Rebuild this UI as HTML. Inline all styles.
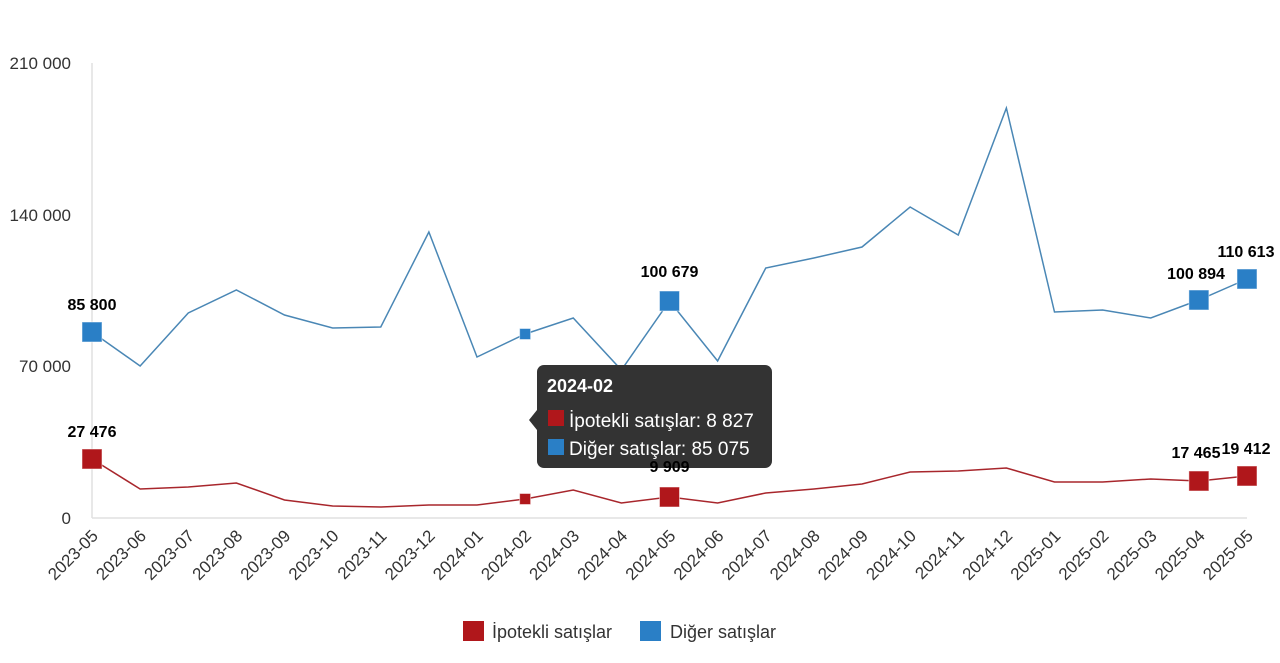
<!DOCTYPE html>
<html><head><meta charset="utf-8"><style>
body{margin:0;background:#fff;width:1280px;height:658px;overflow:hidden;font-family:"Liberation Sans",sans-serif}
</style></head><body>
<svg id="s" width="1280" height="658" xmlns="http://www.w3.org/2000/svg" font-family="Liberation Sans, sans-serif">
<line x1="92" y1="63" x2="92" y2="518" stroke="#e0e0e0" stroke-width="1.5"/>
<line x1="92" y1="518" x2="1247" y2="518" stroke="#e0e0e0" stroke-width="1.5"/>
<g font-size="17" fill="#333" text-anchor="end">
<text x="71" y="69">210 000</text>
<text x="71" y="221">140 000</text>
<text x="71" y="372">70 000</text>
<text x="71" y="524">0</text>
</g>
<g id="g"></g>
<g>
<rect x="463" y="621" width="21" height="20" fill="#b0171b"/>
<text x="492" y="638" font-size="18" fill="#333">İpotekli satışlar</text>
<rect x="640" y="621" width="21" height="20" fill="#2a7fc6"/>
<text x="670" y="638" font-size="18" fill="#333">Diğer satışlar</text>
</g>
<g>
<rect x="537" y="365" width="235" height="103" rx="7" fill="#333"/>
<path d="M537 410 L529 420 L537 430 Z" fill="#333"/>
<text x="547" y="392" font-size="18" font-weight="bold" fill="#fff">2024-02</text>
<rect x="548" y="410" width="16" height="16" fill="#b0171b"/>
<text x="569" y="427" font-size="19" fill="#fff">İpotekli satışlar: 8 827</text>
<rect x="548" y="439" width="16" height="16" fill="#2a7fc6"/>
<text x="569" y="455" font-size="19" fill="#fff">Diğer satışlar: 85 075</text>
</g>
<g id="dl"></g>
</svg>
<script>
var blue=[332,366,313,290,315,328,327,232,357,334,318,370,301,361,268,258,247,207,235,108,312,310,318,300,279];
var red=[459,489,487,483,500,506,507,505,505,499,490,503,497,503,493,489,484,472,471,468,482,482,479,481,476];
var labels=["2023-05","2023-06","2023-07","2023-08","2023-09","2023-10","2023-11","2023-12","2024-01","2024-02","2024-03","2024-04","2024-05","2024-06","2024-07","2024-08","2024-09","2024-10","2024-11","2024-12","2025-01","2025-02","2025-03","2025-04","2025-05"];
var X=i=>92+i*48.125,h='';
function pl(a,c){return '<polyline fill="none" stroke="'+c+'" stroke-width="1.5" points="'+a.map((y,i)=>X(i)+','+y).join(' ')+'"/>';}
h+=pl(blue,'#4a87b5')+pl(red,'#a8262c');
labels.forEach((l,i)=>{var x=X(i)+7;h+='<text transform="translate('+x+',537) rotate(-45)" text-anchor="end" font-size="17" fill="#333">'+l+'</text>';});
function mk(i,y,c,s){return '<rect x="'+(X(i)-s/2)+'" y="'+(y-s/2)+'" width="'+s+'" height="'+s+'" fill="'+c+'" stroke="#fff" stroke-opacity="0.5"/>';}
[[0,blue[0]],[12,blue[12]],[23,blue[23]],[24,blue[24]]].forEach(a=>h+=mk(a[0],a[1],'#2a7fc6',20));
[[0,red[0]],[12,red[12]],[23,red[23]],[24,red[24]]].forEach(a=>h+=mk(a[0],a[1],'#b0171b',20));
h+=mk(9,blue[9],'#2a7fc6',11)+mk(9,red[9],'#b0171b',11);
document.getElementById('g').innerHTML=h;
var d='';
var dl=[[92,310,'85 800'],[669.5,277,'100 679'],[1196,279,'100 894'],[1246,257,'110 613'],[92,437,'27 476'],[669.5,472,'9 909'],[1196,458,'17 465'],[1246,454,'19 412']];
dl.forEach(a=>d+='<text x="'+a[0]+'" y="'+a[1]+'" text-anchor="middle" font-size="16" font-weight="bold" fill="#000">'+a[2]+'</text>');
document.getElementById('dl').innerHTML=d;
</script>
</body></html>
